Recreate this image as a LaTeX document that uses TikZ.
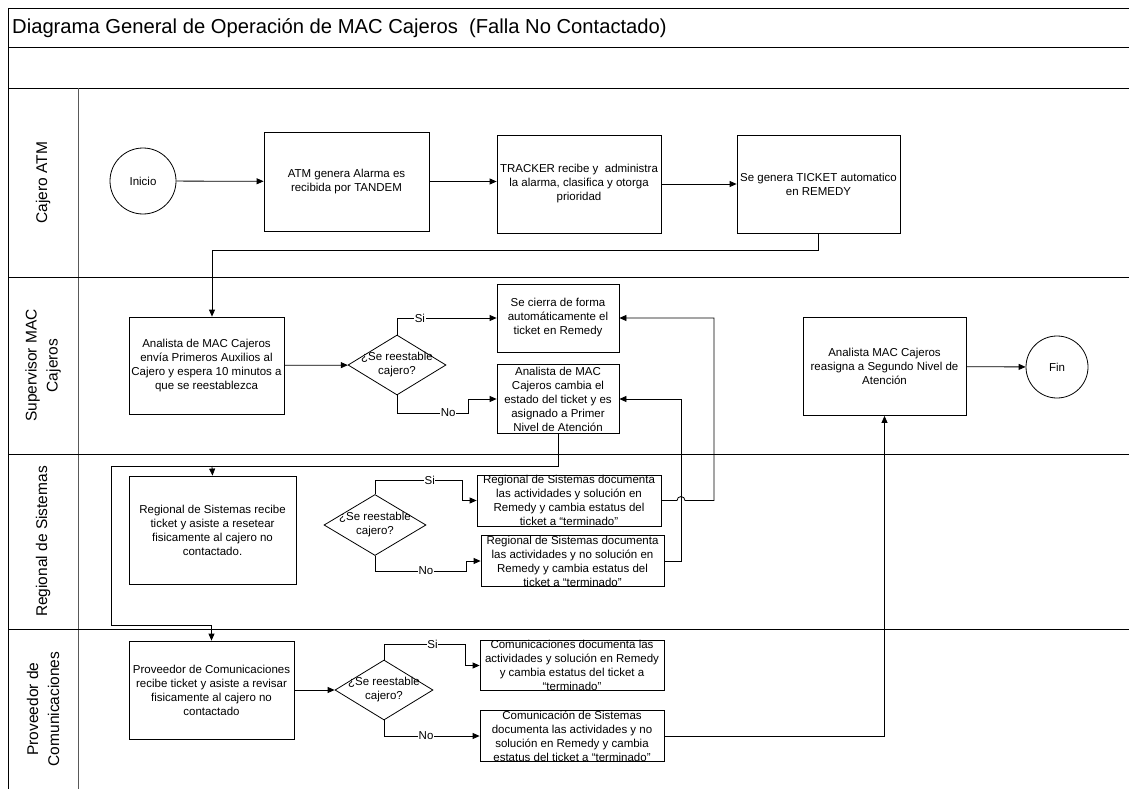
\documentclass[tikz,border=0pt]{standalone}
\usepackage{fontspec}
\setmainfont{Liberation Sans}
\usetikzlibrary{arrows.meta,shapes.geometric}
\begin{document}
\begin{tikzpicture}[x=1pt,y=-1pt,
  box/.style={draw=black,line width=0.8pt,align=center,inner sep=0pt,font=\fontsize{11.5}{14}\selectfont},
  circ/.style={draw=black,circle,line width=0.8pt,inner sep=0pt,font=\fontsize{11.5}{14}\selectfont},
  dia/.style={draw=black,diamond,line width=0.8pt,inner sep=0pt},
  txt/.style={align=center,inner sep=0pt,font=\fontsize{11.5}{14}\selectfont},
  flow/.style={line width=0.8pt,-{Triangle[length=7pt,width=6pt]}},
  lbl/.style={fill=white,inner sep=0.5pt,font=\fontsize{11.5}{13}\selectfont},
  lane/.style={line width=0.9pt},
  lanetxt/.style={rotate=90,align=center,inner sep=0pt,font=\fontsize{15.5}{21}\selectfont}
]
\useasboundingbox (0,0) rectangle (1129,789);
\fill[white] (0,0) rectangle (1129,789);

% frame and lanes
\draw[lane] (8,8) -- (1129,8);
\draw[lane] (8,47) -- (1129,47);
\draw[lane] (8,88) -- (1129,88);
\draw[lane] (8,8) -- (8,789);
\draw[lane,draw=black!65] (78,88) -- (78,789);
\draw[lane] (8,277) -- (1129,277);
\draw[lane] (8,454) -- (1129,454);
\draw[lane] (8,629) -- (1129,629);

\node[anchor=west,inner sep=0pt,font=\fontsize{20.2}{24}\selectfont] (title) at (12,28) {Diagrama General de Operación de MAC Cajeros\ \ (Falla No Contactado)};

\node[lanetxt] (l1) at (43,182.5) {Cajero ATM};
\node[lanetxt] (l2) at (43,365.5) {Supervisor MAC\\Cajeros};
\node[lanetxt] (l3) at (43,541.5) {Regional de Sistemas};
\node[lanetxt] (l4) at (43,709) {Proveedor de\\Comunicaciones};

% lane 1
\node[circ,minimum size=66pt] (inicio) at (143,181) {Inicio};
\node[box,minimum width=165pt,minimum height=99pt] (atm) at (346.5,181.5) {ATM genera Alarma es\\recibida por TANDEM};
\node[box,minimum width=164pt,minimum height=98pt] (tracker) at (579,184) {TRACKER recibe y\ \ administra\\la alarma, clasifica y otorga\\prioridad};
\node[box,minimum width=163pt,minimum height=98pt] (ticket) at (818.5,184) {Se genera TICKET automatico\\en REMEDY};

% lane 2
\node[box,minimum width=155pt,minimum height=97pt] (ana) at (206.5,365.5) {Analista de MAC Cajeros\\envía Primeros Auxilios al\\Cajero y espera 10 minutos a\\que se reestablezca};
\node[dia,minimum width=98pt,minimum height=60pt] (d1) at (397,365) {};
\node[txt] (d1t) at (d1.center) {¿Se reestable\\cajero?};
\node[box,minimum width=122pt,minimum height=68pt] (cierra) at (558,318) {Se cierra de forma\\automáticamente el\\ticket en Remedy};
\node[box,minimum width=122pt,minimum height=69pt] (cambia) at (558,399) {Analista de MAC\\Cajeros cambia el\\estado del ticket y es\\asignado a Primer\\Nivel de Atención};
\node[box,minimum width=163pt,minimum height=98pt] (reas) at (884.5,366.5) {Analista MAC Cajeros\\reasigna a Segundo Nivel de\\Atención};
\node[circ,minimum size=62pt] (fin) at (1057,367) {Fin};

% lane 3
\node[box,minimum width=167pt,minimum height=108pt] (reg) at (212.5,530) {Regional de Sistemas recibe\\ticket y asiste a resetear\\fisicamente al cajero no\\contactado.};
\node[dia,minimum width=102pt,minimum height=61pt] (d2) at (375,525) {};
\node[txt] (d2t) at (d2.center) {¿Se reestable\\cajero?};
\node[box,minimum width=184pt,minimum height=51pt] (regsi) at (569,500.5) {Regional de Sistemas documenta\\las actividades y solución en\\Remedy y cambia estatus del\\ticket a “terminado”};
\node[box,minimum width=183pt,minimum height=50pt] (regno) at (572.5,561) {Regional de Sistemas documenta\\las actividades y no solución en\\Remedy y cambia estatus del\\ticket a “terminado”};

% lane 4
\node[box,minimum width=165pt,minimum height=98pt] (prov) at (211.5,690) {Proveedor de Comunicaciones\\recibe ticket y asiste a revisar\\fisicamente al cajero no\\contactado};
\node[dia,minimum width=98pt,minimum height=60pt] (d3) at (384,690) {};
\node[txt] (d3t) at (d3.center) {¿Se reestable\\cajero?};
\node[box,minimum width=184pt,minimum height=49pt] (comsi) at (572,665.5) {Comunicaciones documenta las\\actividades y solución en Remedy\\y cambia estatus del ticket a\\“terminado”};
\node[box,minimum width=184pt,minimum height=50pt] (comno) at (572,736) {Comunicación de Sistemas\\documenta las actividades y no\\solución en Remedy y cambia\\estatus del ticket a “terminado”};

% bend coordinates
\coordinate (k1) at (212,250);
\coordinate (n1) at (468,413);
\coordinate (j1) at (212,466);
\coordinate (j2) at (111,466);
\coordinate (j3) at (111,625);
\coordinate (s2) at (462,480);
\coordinate (n2) at (466,571);
\coordinate (h1) at (677,500.5);
\coordinate (h2) at (714,500.5);
\coordinate (v2) at (681,450);
\coordinate (s3) at (465,644);

% connectors
\draw[flow] (inicio) -- (atm);
\draw[flow] (atm.east) -- (atm.east -| tracker.west);
\draw[flow] (tracker) -- (ticket);
\draw[flow] (ticket.south) |- (k1) -- (k1 |- ana.north);
\draw[flow] (ana) -- (d1);
\draw[flow] (d1.north) |- node[lbl,pos=0.615]{Si} (cierra.west);
\draw[flow] (d1.south) |- node[lbl,pos=0.86]{No} (n1) |- (cambia.west);
\draw[flow] (cambia.south) |- (j2) -- (j3) -| (prov.north);
\draw[flow] (j1) -- (reg.north);
\draw[flow] (d2.north) |- node[lbl,pos=0.815]{Si} (s2) |- (regsi.west);
\draw[flow] (d2.south) |- node[lbl,pos=0.78]{No} (n2) |- (regno.west);
\draw[flow] (regsi.east) -- (h1) arc[start angle=180,end angle=0,radius=4pt] -- (h2) |- (cierra.east);
\draw[flow] (regno.east) -| (v2) |- (cambia.east);
\draw[flow] (prov) -- (d3);
\draw[flow] (d3.north) |- node[lbl,pos=0.8]{Si} (s3) |- (comsi.west);
\draw[flow] (d3.south) |- node[lbl,pos=0.72]{No} (comno.west);
\draw[flow] (comno.east) -| (reas.south);
\draw[flow] (reas) -- (fin);
\end{tikzpicture}
\end{document}
